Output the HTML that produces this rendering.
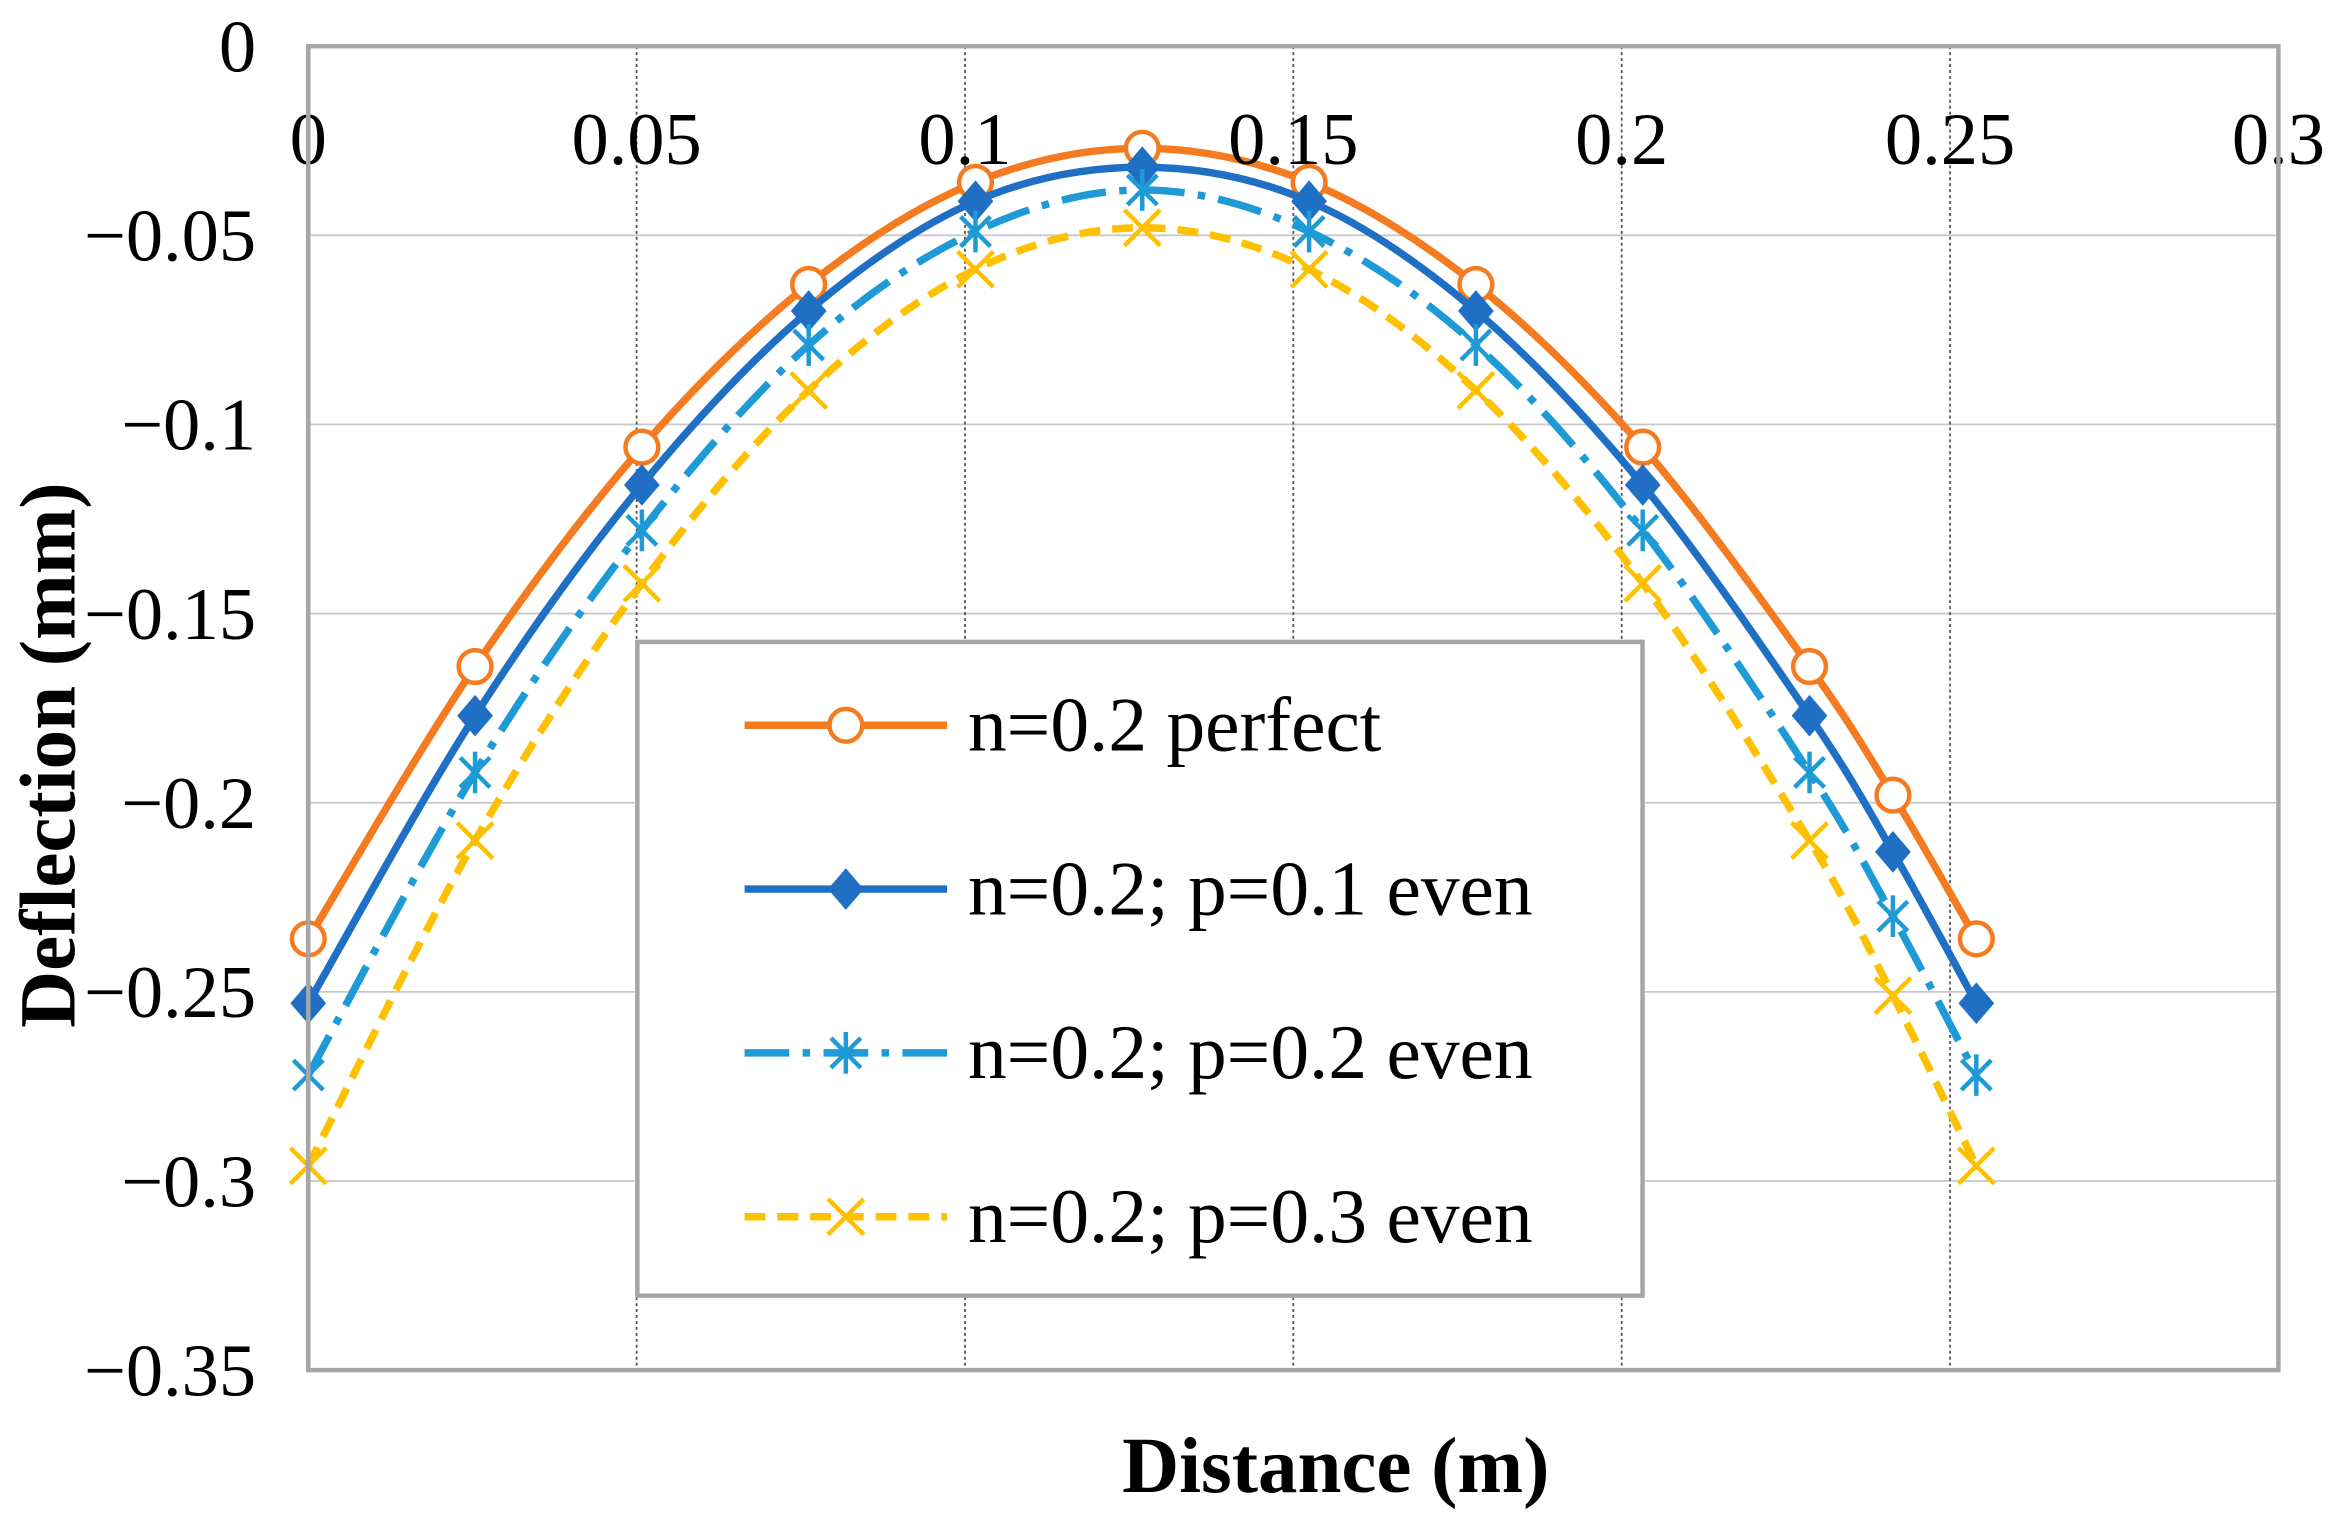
<!DOCTYPE html>
<html><head><meta charset="utf-8"><style>
html,body{margin:0;padding:0;background:#fff;}
svg{display:block;}
text{font-family:"Liberation Serif",serif;}
</style></head><body>
<svg id="chart" width="2335" height="1525" viewBox="0 0 1568 1024" preserveAspectRatio="none" xmlns="http://www.w3.org/2000/svg">
<g id="grid"></g><g id="series"></g><g id="axes"></g>
<g>
<rect x="428" y="431" width="675" height="439" fill="#fff" stroke="#a6a6a6" stroke-width="3"/>
<g id="legend"></g>
</g>
<text transform="translate(50,507) rotate(-90)" text-anchor="middle" font-size="53" font-weight="bold">Deflection (mm)</text>
<text x="897" y="1002" text-anchor="middle" font-size="53" font-weight="bold">Distance (m)</text>
</svg>
<script>
const xValues=[0,0.0254,0.0508,0.0762,0.1016,0.127,0.1524,0.1778,0.2032,0.2286,0.2413,0.254];
const perfect=[-0.236,-0.164,-0.106,-0.063,-0.036,-0.027,-0.036,-0.063,-0.106,-0.164,-0.198,-0.236];
const p01=[-0.253,-0.177,-0.116,-0.070,-0.041,-0.032,-0.041,-0.070,-0.116,-0.177,-0.213,-0.253];
const p02=[-0.272,-0.192,-0.128,-0.079,-0.049,-0.038,-0.049,-0.079,-0.128,-0.192,-0.230,-0.272];
const p03=[-0.296,-0.210,-0.142,-0.091,-0.059,-0.048,-0.059,-0.091,-0.142,-0.210,-0.251,-0.296];
const seriesNames=["n=0.2 perfect","n=0.2; p=0.1 even","n=0.2; p=0.2 even","n=0.2; p=0.3 even"];
const xTicks=[0,0.05,0.1,0.15,0.2,0.25,0.3];
const xTickLabels=["0","0.05","0.1","0.15","0.2","0.25","0.3"];
const yTicks=[0,-0.05,-0.1,-0.15,-0.2,-0.25,-0.3,-0.35];
const yTickLabels=["0","\u22120.05","\u22120.1","\u22120.15","\u22120.2","\u22120.25","\u22120.3","\u22120.35"];

const NS="http://www.w3.org/2000/svg";
const L=207,R=1530,T=31,B=920;
const sx=v=>L+(v-0)/0.3*(R-L);
const sy=v=>T+(0-v)/0.35*(B-T);
function mk(tag,attrs,parent){const e=document.createElementNS(NS,tag);for(const k in attrs)e.setAttribute(k,attrs[k]);parent.appendChild(e);return e;}
const grid=document.getElementById('grid'),axes=document.getElementById('axes'),ser=document.getElementById('series'),leg=document.getElementById('legend');
yTicks.forEach((v,i)=>{
 if(i>0&&i<yTicks.length-1){const g=mk('line',{x1:L,x2:R,y1:sy(v),y2:sy(v),stroke:'#c8c8c8','stroke-width':1.2},grid);
 
 }
 const t=mk('text',{x:L-35,y:sy(v)+17,'text-anchor':'end','font-size':50},axes);t.textContent=yTickLabels[i];
 
 
});
xTicks.forEach((v,i)=>{
 if(i>0&&i<xTicks.length-1){const g=mk('line',{x1:sx(v),x2:sx(v),y1:T,y2:B,stroke:'#555','stroke-width':1.2,'stroke-dasharray':'2,2'},grid);
 
 }
 const t=mk('text',{x:sx(v),y:110,'text-anchor':'middle','font-size':50},axes);t.textContent=xTickLabels[i];
 
 
});
const frame=mk('rect',{x:L,y:T,width:R-L,height:B-T,fill:'none',stroke:'#a6a6a6','stroke-width':3},axes);



const styles=[
 {c:'#f47b20',dash:'',m:'circle'},
 {c:'#1f6fc5',dash:'',m:'diamond'},
 {c:'#1e9ad6',dash:'30,9,5,9',m:'star'},
 {c:'#ffc000',dash:'14,8',m:'x'}];
function curve(pts){let d=`M${pts[0][0]},${pts[0][1]}`;for(let i=0;i<pts.length-1;i++){const p0=pts[Math.max(0,i-1)],p1=pts[i],p2=pts[i+1],p3=pts[Math.min(pts.length-1,i+2)];
 d+=` C${p1[0]+(p2[0]-p0[0])/6},${p1[1]+(p2[1]-p0[1])/6} ${p2[0]-(p3[0]-p1[0])/6},${p2[1]-(p3[1]-p1[1])/6} ${p2[0]},${p2[1]}`;}return d;}
function marker(type,x,y,c,parent){
 let e;
 if(type==='circle')e=mk('circle',{cx:x,cy:y,r:11,fill:'#fff',stroke:c,'stroke-width':3},parent);
 else if(type==='diamond')e=mk('path',{d:`M${x},${y-14}L${x+12},${y}L${x},${y+14}L${x-12},${y}Z`,fill:c},parent);
 else if(type==='star')e=mk('path',{d:`M${x-10},${y-10}L${x+10},${y+10}M${x+10},${y-10}L${x-10},${y+10}M${x},${y-14}L${x},${y+14}`,stroke:c,'stroke-width':3,fill:'none'},parent);
 else e=mk('path',{d:`M${x-12},${y-12}L${x+12},${y+12}M${x+12},${y-12}L${x-12},${y+12}`,stroke:c,'stroke-width':3,fill:'none'},parent);
 return e;}
[perfect,p01,p02,p03].forEach((vals,si)=>{
 const s=styles[si];
 const pts=xValues.map((x,i)=>[sx(x),sy(vals[i])]);
 const p=mk('path',{d:curve(pts),fill:'none',stroke:s.c,'stroke-width':5,'stroke-dasharray':s.dash},ser);
 
 
 pts.forEach(pt=>{const m=marker(s.m,pt[0],pt[1],s.c,ser);
  
  });
 const ly=487+si*110;
 const ll=mk('line',{x1:500,x2:636,y1:ly,y2:ly,stroke:s.c,'stroke-width':5,'stroke-dasharray':s.dash},leg);
 
 
 const lm=marker(s.m,568,ly,s.c,leg);
 
 
 const t=mk('text',{x:650,y:ly+17,'font-size':52},leg);t.textContent=seriesNames[si];
 
 
});
</script>
</body></html>
